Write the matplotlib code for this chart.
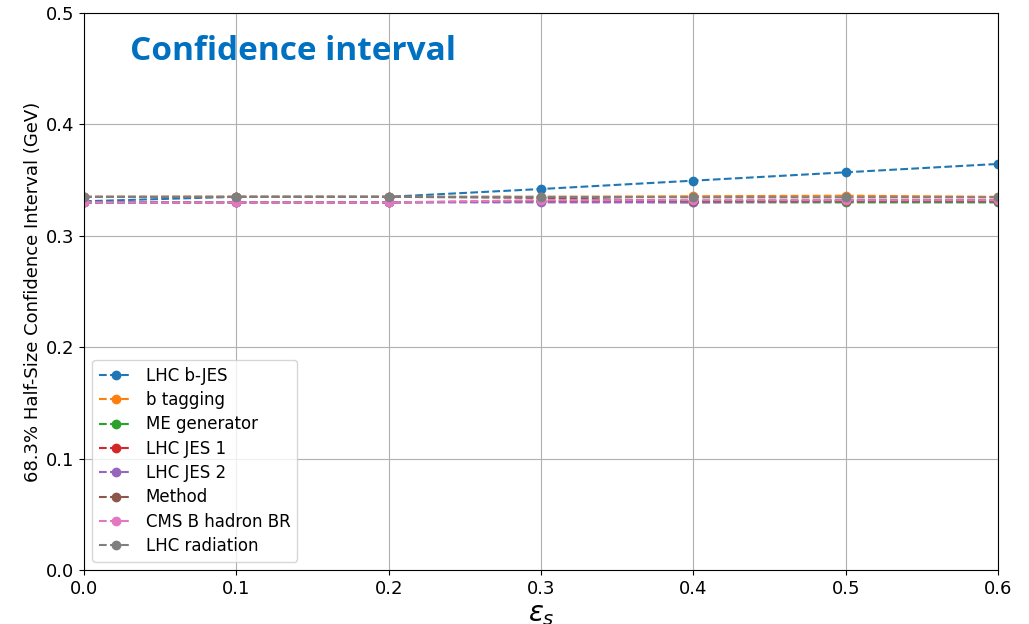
import matplotlib
matplotlib.use("Agg")
import matplotlib.pyplot as plt

eps = [0.0, 0.1, 0.2, 0.3, 0.4, 0.5, 0.6]
lhc_bjes = [0.331, 0.335, 0.335, 0.342, 0.3495, 0.357, 0.3645]
b_tagging = [0.335, 0.335, 0.335, 0.335, 0.3355, 0.336, 0.335]
me_generator = [0.330, 0.330, 0.330, 0.331, 0.330, 0.330, 0.330]
lhc_jes1 = [0.330, 0.330, 0.330, 0.331, 0.331, 0.332, 0.332]
lhc_jes2 = [0.330, 0.330, 0.330, 0.330, 0.330, 0.331, 0.331]
method = [0.335, 0.335, 0.335, 0.334, 0.331, 0.331, 0.331]
cms_bhadron = [0.330, 0.330, 0.330, 0.332, 0.332, 0.332, 0.332]
lhc_radiation = [0.335, 0.335, 0.335, 0.335, 0.3345, 0.3345, 0.3345]

series = [
    ("LHC b-JES", lhc_bjes),
    ("b tagging", b_tagging),
    ("ME generator", me_generator),
    ("LHC JES 1", lhc_jes1),
    ("LHC JES 2", lhc_jes2),
    ("Method", method),
    ("CMS B hadron BR", cms_bhadron),
    ("LHC radiation", lhc_radiation),
]

fig = plt.figure(figsize=(10.29, 6.24), dpi=100)
ax = fig.add_axes([84/1029, 54/624, 914/1029, 557/624])
for name, vals in series:
    ax.plot(eps, vals, "o--", label=name, markersize=6)

ax.set_xlim(0, 0.6)
ax.set_ylim(0, 0.5)
ax.grid(True)
ax.tick_params(labelsize=13)
ax.set_ylabel("68.3% Half-Size Confidence Interval (GeV)", fontsize=13, labelpad=3)
ax.set_xlabel(r"$\varepsilon_s$", fontsize=20, labelpad=2)
ax.legend(loc="lower left", fontsize=12, labelspacing=0.38, handlelength=2.0)
ax.text(130/1029, 1 - 52/624, "Confidence interval", transform=fig.transFigure,
        fontsize=24, fontweight="bold", color="#0070C0", family="Open Sans",
        va="center", ha="left")
fig.savefig("out.png", dpi=100)
